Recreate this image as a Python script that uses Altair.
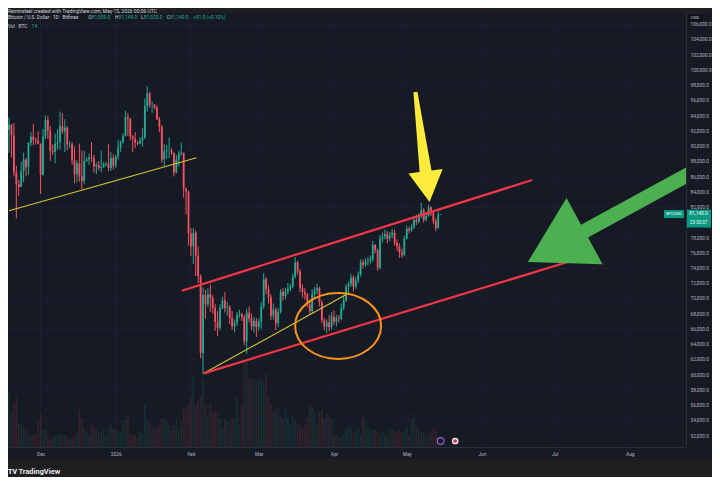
import altair as alt
import pandas as pd

# ---------------- candle data (Bitfinex BTCUSD, 1D, thousand USD) ----------------
start_day = "2025-11-18"
first_open_k = 92.2
close_k = [
    92.9, 91.5, 86.6, 85.1, 84.7, 86.8, 88.3, 87.3, 90.5, 91.3,
    90.9, 90.8, 90.4, 86.3, 91.3, 93.5, 92.1, 89.4, 89.3, 90.4,
    90.6, 92.7, 92.0, 92.5, 90.3, 90.3, 88.2, 86.4, 87.8, 86.1,
    85.5, 88.1, 88.3, 88.6, 88.5, 87.4, 87.6, 87.2, 87.3, 87.8,
    87.8, 87.2, 88.5, 87.5, 88.7, 89.9, 90.6, 91.4, 93.9, 93.7,
    91.3, 91.0, 90.5, 90.4, 90.8, 91.2, 95.3, 97.0, 95.5, 95.5,
    95.1, 93.6, 92.6, 88.3, 89.4, 89.5, 89.5, 89.2, 86.6, 88.3,
    89.1, 89.2, 84.5, 84.1, 78.6, 76.9, 78.7, 75.7, 73.0, 62.9,
    70.5, 69.3, 70.6, 70.1, 68.8, 67.0, 66.2, 68.8, 69.8, 68.8,
    68.9, 67.5, 66.4, 66.9, 67.9, 68.0, 67.6, 64.4, 68.2, 67.4,
    66.4, 67.1, 66.3, 67.0, 69.0, 72.6, 71.3, 70.2, 67.8, 68.6,
    66.8, 68.3, 70.9, 70.4, 71.0, 71.3, 71.6, 72.9, 74.8, 73.6,
    71.4, 70.9, 70.6, 69.3, 68.4, 70.6, 71.1, 71.4, 69.6, 67.2,
    66.4, 66.9, 66.3, 67.7, 67.0, 67.5, 67.4, 68.8, 69.8, 71.6,
    71.9, 72.8, 71.6, 72.4, 73.2, 74.8, 74.5, 74.9, 75.0, 75.2,
    77.1, 76.4, 74.1, 77.9, 78.2, 78.5, 77.9, 78.4, 78.7, 77.4,
    76.9, 76.1, 75.8, 77.9, 79.2, 79.0, 79.4, 80.4, 80.1, 80.9,
    81.7, 80.4, 80.9, 82.0, 81.3, 80.2, 79.3, 81.059, 81.14,
]
high_k = [
    93.8, 92.9, 93.1, 87.5, 85.6, 88.0, 89.2, 88.5, 90.6, 91.9,
    93.0, 91.2, 92.0, 90.4, 92.3, 94.1, 94.0, 92.7, 90.3, 91.7,
    92.3, 94.6, 94.4, 93.6, 92.7, 90.7, 90.6, 90.0, 88.2, 90.4,
    89.5, 89.4, 88.6, 89.1, 90.6, 88.9, 87.9, 88.1, 89.5, 88.0,
    88.0, 90.3, 89.3, 89.0, 88.9, 90.9, 90.8, 91.8, 94.7, 94.4,
    93.7, 91.5, 91.9, 90.8, 91.2, 92.4, 96.3, 97.9, 97.2, 95.9,
    95.6, 95.4, 93.9, 92.8, 90.3, 90.2, 91.2, 89.8, 89.2, 88.9,
    89.4, 90.5, 89.2, 84.6, 84.2, 79.3, 79.3, 79.0, 76.9, 73.2,
    71.5, 71.2, 71.4, 71.9, 70.5, 69.3, 68.4, 69.3, 70.3, 70.9,
    69.6, 69.2, 68.4, 67.3, 68.3, 68.6, 68.2, 67.9, 68.7, 69.0,
    68.1, 67.6, 67.5, 67.4, 69.6, 73.4, 72.9, 71.8, 70.6, 69.4,
    68.9, 68.8, 71.3, 71.4, 71.5, 72.1, 72.0, 73.3, 75.5, 75.0,
    73.9, 71.9, 71.4, 70.8, 69.6, 71.3, 71.6, 72.0, 71.6, 69.8,
    67.5, 67.3, 67.9, 68.3, 68.5, 67.9, 67.9, 69.4, 70.3, 72.0,
    72.3, 73.3, 73.1, 72.9, 73.6, 75.2, 75.2, 75.3, 75.5, 75.7,
    77.6, 77.2, 76.6, 78.4, 78.7, 79.1, 78.9, 78.8, 79.2, 79.1,
    77.8, 77.3, 76.6, 78.3, 79.6, 79.5, 79.8, 80.8, 81.0, 81.3,
    82.6, 81.9, 81.3, 82.4, 82.2, 81.6, 80.6, 81.5, 81.149,
]
low_k = [
    89.2, 88.6, 86.1, 80.6, 83.5, 84.7, 85.3, 86.1, 86.3, 90.1,
    90.2, 90.3, 90.3, 83.8, 86.2, 91.0, 91.0, 88.1, 88.9, 87.8,
    89.6, 89.6, 91.7, 89.3, 89.5, 89.8, 87.6, 85.2, 85.3, 85.4,
    84.4, 85.1, 88.0, 87.6, 88.0, 86.6, 86.4, 86.9, 86.6, 87.2,
    87.4, 86.8, 86.8, 87.0, 87.2, 88.3, 89.3, 90.4, 91.3, 91.4,
    90.8, 89.3, 89.8, 90.2, 90.3, 90.0, 91.0, 94.6, 95.1, 94.4,
    94.9, 93.5, 91.9, 87.9, 87.3, 88.4, 88.5, 88.9, 86.1, 86.5,
    87.4, 88.8, 83.3, 81.1, 77.0, 75.6, 74.6, 73.0, 72.1, 62.2,
    60.1, 67.4, 68.9, 68.3, 68.1, 65.8, 65.1, 65.9, 68.6, 68.2,
    67.8, 66.7, 65.9, 65.6, 66.4, 67.5, 67.1, 63.9, 62.8, 66.9,
    65.9, 65.6, 65.0, 65.8, 66.1, 68.7, 70.6, 69.4, 67.2, 67.3,
    65.9, 66.3, 68.1, 69.8, 70.0, 70.6, 71.0, 71.4, 72.7, 73.2,
    70.9, 70.2, 69.9, 68.9, 67.9, 68.1, 70.2, 70.6, 69.0, 66.8,
    65.9, 65.5, 65.8, 66.0, 66.6, 66.4, 66.9, 67.2, 68.5, 69.6,
    70.8, 71.6, 71.0, 71.3, 72.1, 72.9, 74.0, 74.2, 74.4, 74.6,
    74.9, 76.0, 73.7, 73.9, 77.4, 77.8, 77.3, 77.6, 78.0, 77.0,
    76.3, 75.4, 75.4, 75.6, 77.8, 78.6, 78.8, 79.2, 79.7, 79.9,
    80.6, 80.0, 80.2, 80.8, 80.9, 79.8, 78.9, 79.2, 81.02,
]
# relative volume (bar height units)
volume = [
    55, 35, 45, 50, 23, 23, 20, 17, 14, 12,
    13, 13, 25, 33, 17, 18, 12, 8, 10, 11,
    12, 13, 12, 12, 9, 8, 8, 12, 15, 37,
    28, 18, 14, 12, 23, 22, 18, 15, 15, 18,
    12, 20, 23, 18, 18, 16, 15, 23, 27, 31,
    14, 12, 13, 10, 15, 14, 43, 28, 24, 20,
    18, 20, 22, 28, 30, 25, 22, 17, 22, 28,
    18, 25, 38, 38, 42, 50, 72, 42, 48, 52,
    68, 42, 32, 43, 35, 35, 35, 28, 18, 28,
    25, 22, 28, 28, 50, 22, 42, 85, 85, 68,
    68, 68, 65, 67, 67, 65, 73, 50, 42, 35,
    38, 38, 32, 28, 40, 30, 22, 33, 27, 24,
    22, 20, 22, 30, 42, 40, 37, 23, 35, 36,
    28, 34, 32, 28, 12, 12, 10, 8, 12, 18,
    22, 18, 15, 16, 18, 12, 30, 25, 20, 18,
    17, 17, 15, 13, 15, 14, 12, 17, 18, 16,
    15, 18, 15, 17, 20, 12, 28, 33, 22, 18,
    16, 15, 12, 13, 16, 20, 18, 10, 1,
]

# ---------------- axis ticks ----------------
price_ticks = [52000, 54000, 56000, 58000, 60000, 62000, 64000, 66000, 68000,
               70000, 72000, 74000, 76000, 78000, 82000, 84000, 86000, 88000,
               90000, 92000, 94000, 96000, 98000, 100000, 102000, 104000, 106000]
grid_prices = [54000, 58000, 62000, 66000, 70000, 74000, 78000, 82000, 86000,
               90000, 94000, 98000, 102000, 106000]
month_ticks = ["2025-12-01", "2026-01-01", "2026-02-01", "2026-03-01", "2026-04-01",
               "2026-05-01", "2026-06-01", "2026-07-01", "2026-08-01"]

# ---------------- drawings (date, price) ----------------
yellow_lines = [("y1", "2025-11-18T00:00:00Z", 81590), ("y1", "2026-02-03T07:40:00Z", 88550),
                ("y2", "2026-02-06T08:00:00Z", 60230), ("y2", "2026-04-07T04:30:00Z", 70780)]
red_lines = [("r1", "2026-01-28T05:30:00Z", 71080), ("r1", "2026-06-21T18:00:00Z", 85620),
             ("r2", "2026-02-06T07:00:00Z", 60230), ("r2", "2026-07-06T09:20:00Z", 74850)]
circle_center = [("2026-04-02T17:00:00Z", 66450)]
yellow_arrow = [("2026-05-07T12:00:00Z", 89950)]
green_arrow = [("2026-07-28T21:40:00Z", 81610)]
event_icon = ["2026-05-15"]
flag_icon = ["2026-05-21"]

# ---------------- text ----------------
header_text = "Raininsteel created with TradingView.com, May 15, 2026 00:06 UTC"
symbol_text = "Bitcoin / U.S. Dollar · 1D · Bitfinex"
ohlc_text = [("O", "81,059.0"), ("H", "81,149.0"), ("L", "81,020.0"), ("C", "81,140.0")]
change_text = "+81.0 (+0.10%)"
vol_label, vol_value = "Vol · BTC", "14"
countdown = "23:53:07"

# ---------------- styles ----------------
FONT = "Roboto"
OUTER = "#1f1f1f"
PANE = "#161a25"
GRID = "#1d2130"
AXIS_TXT = "#b2b5be"
UP, DOWN = "#22ab94", "#f7525f"
TXT = "#d1d4dc"

dates = pd.date_range(start_day, periods=len(close_k), freq="D").strftime("%Y-%m-%d")
opens = [first_open_k] + close_k[:-1]
df = pd.DataFrame({
    "date": dates,
    "open": [v * 1000 for v in opens],
    "high": [v * 1000 for v in high_k],
    "low": [v * 1000 for v in low_k],
    "close": [v * 1000 for v in close_k],
    "volume": volume,
})
df["dir"] = ["up" if c >= o else "down" for o, c in zip(df["open"], df["close"])]
last_df = pd.DataFrame({"price": [close_k[-1] * 1000]})


def dt(s, h=0, m=0):
    return alt.DateTime(year=int(s[:4]), month=int(s[5:7]), date=int(s[8:10]),
                        hours=h, minutes=m, utc=True)


X_SCALE = alt.Scale(type="utc", domain=[dt("2025-11-19", 14, 57), dt("2026-08-22", 2, 53)], nice=False)
X_AXIS = alt.Axis(values=[dt(s) for s in month_ticks],
                  labelExpr="utcFormat(datum.value, '%m') == '01' ? utcFormat(datum.value, '%Y') : utcFormat(datum.value, '%b')",
                  ticks=False, grid=False, domainColor="#2a2e39", labelColor=AXIS_TXT,
                  labelFontSize=4.8, labelFont=FONT, labelPadding=4, zindex=1, title=None,
                  labelOverlap=False, labelFlush=False)
Y_SCALE = alt.Scale(domain=[50557, 107545], zero=False, nice=False)
Y_AXIS = alt.Axis(orient="right", values=price_ticks, format=",.1f", ticks=False, grid=False,
                  domainColor="#2a2e39", labelColor=AXIS_TXT, labelFontSize=4.8, labelFont=FONT,
                  labelPadding=4, zindex=1, title=None, labelOverlap=False)
COLOR = alt.Scale(domain=["up", "down"], range=[UP, DOWN])
X = alt.X("date:T", scale=X_SCALE, axis=X_AXIS)

one = alt.Data(values=[{}])

bg = alt.Chart(one).mark_rect(color=PANE).encode(
    x=alt.value(0), x2=alt.value(712), y=alt.value(0), y2=alt.value(446))

grid_h = alt.Chart(pd.DataFrame({"price": grid_prices})).mark_rule(color=GRID, strokeWidth=1).encode(
    y=alt.Y("price:Q", scale=Y_SCALE, axis=None), x=alt.value(0), x2=alt.value(678))
grid_v = alt.Chart(pd.DataFrame({"date": month_ticks})).mark_rule(color=GRID, strokeWidth=1).encode(
    x=X, y=alt.value(0), y2=alt.value(434))
grid = alt.layer(grid_h, grid_v)

vol = alt.Chart(df).mark_bar(size=1.8, opacity=0.13, clip=True).encode(
    x=X,
    y=alt.Y("volume:Q", scale=alt.Scale(domain=[0, 434], nice=False, zero=True), axis=None),
    color=alt.Color("dir:N", scale=COLOR, legend=None))

Y_PRICE = lambda f: alt.Y(f, scale=Y_SCALE, axis=Y_AXIS)

wick = alt.Chart(df).mark_rule(strokeWidth=1, clip=True).encode(
    x=X, y=Y_PRICE("low:Q"), y2="high:Q", color=alt.Color("dir:N", scale=COLOR, legend=None))
body = alt.Chart(df).mark_bar(size=1.8, clip=True).encode(
    x=X, y=Y_PRICE("open:Q"), y2="close:Q", color=alt.Color("dir:N", scale=COLOR, legend=None))

ydf = pd.DataFrame(yellow_lines, columns=["id", "date", "price"])
rdf = pd.DataFrame(red_lines, columns=["id", "date", "price"])
ylines = alt.Chart(ydf).mark_line(color="#d9c431", strokeWidth=1.1, clip=True).encode(
    x=X, y=Y_PRICE("price:Q"), detail="id:N")
rlines = alt.Chart(rdf).mark_line(color="#f23645", strokeWidth=2.2, clip=True).encode(
    x=X, y=Y_PRICE("price:Q"), detail="id:N")

ELLIPSE = ("M 1 0 C 1 0.4236 0.5523 0.767 0 0.767 C -0.5523 0.767 -1 0.4236 -1 0 "
           "C -1 -0.4236 -0.5523 -0.767 0 -0.767 C 0.5523 -0.767 1 -0.4236 1 0 Z")
circ = alt.Chart(pd.DataFrame(circle_center, columns=["date", "price"])).mark_point(
    shape=ELLIPSE, size=7396, filled=False, color="#f7931a", strokeWidth=2, opacity=1, clip=True
).encode(x=X, y=Y_PRICE("price:Q"))

YARROW = "M 0 -1 L 0.31 -0.44 L 0.108 -0.44 L 0.036 1 L -0.036 1 L -0.108 -0.44 L -0.31 -0.44 Z"
GARROW = "M 0 -1 L 0.35 -0.4 L 0.068 -0.4 L 0.068 1 L -0.068 1 L -0.068 -0.4 L -0.35 -0.4 Z"
yarr = alt.Chart(pd.DataFrame(yellow_arrow, columns=["date", "price"])).mark_point(
    shape=YARROW, size=12321, angle=172.7, filled=True, color="#ffeb3b", opacity=1,
    strokeWidth=0, clip=True).encode(x=X, y=Y_PRICE("price:Q"))
garr = alt.Chart(pd.DataFrame(green_arrow, columns=["date", "price"])).mark_point(
    shape=GARROW, size=46225, angle=241.4, filled=True, color="#4caf50", opacity=1,
    strokeWidth=0, clip=True).encode(x=X, y=Y_PRICE("price:Q"))

ev1 = alt.Chart(pd.DataFrame({"date": event_icon})).mark_point(
    shape="circle", size=45, filled=False, color="#9b59d0", strokeWidth=1.2, opacity=1).encode(
    x=X, y=alt.value(428))
ev2 = alt.Chart(pd.DataFrame({"date": flag_icon})).mark_point(
    shape="circle", size=45, filled=True, color="#e8e8ee", opacity=1).encode(x=X, y=alt.value(428))
ev2b = alt.Chart(pd.DataFrame({"date": flag_icon})).mark_point(
    shape="circle", size=14, filled=True, color="#d8323c", opacity=1).encode(x=X, y=alt.value(428))

RECT_BOX = "M -1 -0.72 L 1 -0.72 L 1 0.72 L -1 0.72 Z"
RECT_TAG = "M -1 -0.4 L 1 -0.4 L 1 0.4 L -1 0.4 Z"
pbox = alt.Chart(last_df).mark_point(shape=RECT_BOX, size=625, filled=True, color="#089981",
                                     opacity=1, yOffset=4.5).encode(x=alt.value(690.5), y=Y_PRICE("price:Q"))
ptag = alt.Chart(last_df).mark_point(shape=RECT_TAG, size=400, filled=True, color="#089981",
                                     opacity=1).encode(x=alt.value(666), y=Y_PRICE("price:Q"))
ptxt = alt.Chart(last_df).mark_text(color="#ffffff", fontSize=4.8, font=FONT, align="center",
                                    baseline="middle").encode(
    x=alt.value(690.5), y=Y_PRICE("price:Q"), text=alt.Text("price:Q", format=",.1f"))
ctxt = alt.Chart(last_df).mark_text(color="#e8f5f2", fontSize=4.6, font=FONT, align="center",
                                    baseline="middle", yOffset=8.5, text=countdown).encode(
    x=alt.value(690.5), y=Y_PRICE("price:Q"))
ttxt = alt.Chart(last_df).mark_text(color="#ffffff", fontSize=4.2, font=FONT, align="center",
                                    baseline="middle", text="BTCUSD").encode(
    x=alt.value(666), y=Y_PRICE("price:Q"))

main = alt.layer(wick, body, ylines, rlines, circ, yarr, garr, ev1, ev2, ev2b,
                 ptag, pbox, ptxt, ctxt, ttxt)


def label(text, x, y, color=TXT, size=4.8, weight="normal", align="left"):
    return alt.Chart(one).mark_text(text=text, x=x, y=y, color=color, fontSize=size, font=FONT,
                                    fontWeight=weight, align=align, baseline="middle")


texts = [label(header_text, 0, -2.5, TXT, 5.0),
         label(symbol_text, 0, 4.5, TXT, 4.8)]
ohlc_x = [(80.3, 83.7), (107.0, 110.7), (133.0, 136.0), (158.7, 162.0)]
for (k, v), (kx, vx) in zip(ohlc_text, ohlc_x):
    texts.append(label(k, kx, 4.5, TXT, 4.8))
    texts.append(label(v, vx, 4.5, UP, 4.8))
texts.append(label(change_text, 185.3, 4.5, UP, 4.8))
texts.append(label(vol_label, 0, 13.5, TXT, 4.8))
texts.append(label(vol_value, 23.7, 13.5, UP, 4.8))

usd_box = alt.Chart(one).mark_rect(color="#0f121a", stroke="#2a2e39", strokeWidth=0.5).encode(
    x=alt.value(679), x2=alt.value(695), y=alt.value(0.5), y2=alt.value(10))
texts.append(label("USD", 687, 5.3, TXT, 4.4, align="center"))
texts.append(label("TV", 0, 459, "#ffffff", 7, weight="bold"))
texts.append(label("TradingView", 10.5, 459, "#e8e8e8", 7.4, weight="bold"))

chart = alt.layer(bg, grid, vol, main, usd_box, *texts).resolve_scale(y="independent").properties(
    width=678, height=434,
    padding={"left": 0, "top": 5, "right": 26, "bottom": 30},
    autosize=alt.AutoSizeParams(type="none"),
    background=OUTER,
).configure_view(stroke=None)

chart.save("out.html", embed_options={"renderer": "svg", "actions": False})
